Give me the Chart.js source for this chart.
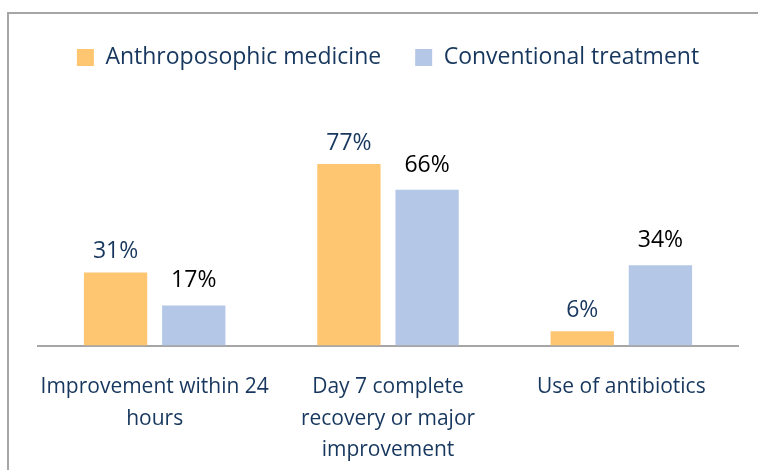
<!DOCTYPE html>
<html>
<head>
<meta charset="utf-8">
<script src="https://cdn.jsdelivr.net/npm/chart.js@4/dist/chart.umd.min.js"></script>
<style>
  html, body { margin: 0; padding: 0; background: #fff; }
  #wrap { position: relative; width: 758px; height: 470px; }
  #frame { position: absolute; left: 7px; top: 12px; right: 0; bottom: 0;
           border-left: 2px solid #a6a6a6; border-top: 2px solid #a6a6a6; }
  canvas { position: absolute; left: 0; top: 0; }
</style>
</head>
<body>
<div id="wrap">
  <div id="frame"></div>
  <canvas id="chart" width="758" height="470"></canvas>
</div>
<script>
const categories = [
  ['Improvement within 24', 'hours'],
  ['Day 7 complete', 'recovery or major', 'improvement'],
  'Use of antibiotics'
];
const anthroposophic = [31, 77, 6];
const conventional = [17, 66, 34];

const navy = '#17375e';
const font = "'Open Sans', sans-serif";

const barLabels = {
  id: 'barLabels',
  afterDatasetsDraw(chart) {
    const ctx = chart.ctx;
    ctx.save();
    ctx.textAlign = 'center';
    ctx.textBaseline = 'bottom';
    chart.data.datasets.forEach((ds, i) => {
      const meta = chart.getDatasetMeta(i);
      ctx.fillStyle = ds.labelColor;
      ctx.font = '23px ' + font;
      meta.data.forEach((bar, j) => {
        ctx.fillText(ds.data[j] + '%', bar.x, bar.y - ds.labelGap);
      });
    });
    ctx.restore();
  }
};

const ctx = document.getElementById('chart').getContext('2d');
new Chart(ctx, {
  type: 'bar',
  data: {
    labels: categories,
    datasets: [
      {
        label: 'Anthroposophic medicine',
        data: anthroposophic,
        backgroundColor: '#ffc671',
        labelColor: navy,
        labelGap: 9
      },
      {
        label: 'Conventional treatment',
        data: conventional,
        backgroundColor: '#b4c7e7',
        labelColor: '#000000',
        labelGap: 13
      }
    ]
  },
  options: {
    responsive: false,
    animation: false,
    devicePixelRatio: 1,
    categoryPercentage: 0.67,
    barPercentage: 0.81,
    layout: { padding: { left: 38, right: 20, top: 12, bottom: -14 } },
    plugins: {
      legend: {
        position: 'top',
        labels: {
          boxWidth: 17,
          boxHeight: 17,
          padding: 34,
          color: navy,
          font: { family: font, size: 23 }
        }
      },
      tooltip: { enabled: false }
    },
    scales: {
      x: {
        grid: { display: false },
        border: { display: true, color: '#a6a6a6', width: 2 },
        ticks: {
          color: navy,
          padding: 18,
          maxRotation: 0,
          font: { family: font, size: 21, lineHeight: 1.5 }
        }
      },
      y: {
        display: false,
        min: 0,
        max: 113
      }
    }
  },
  plugins: [barLabels]
});
</script>
</body>
</html>
